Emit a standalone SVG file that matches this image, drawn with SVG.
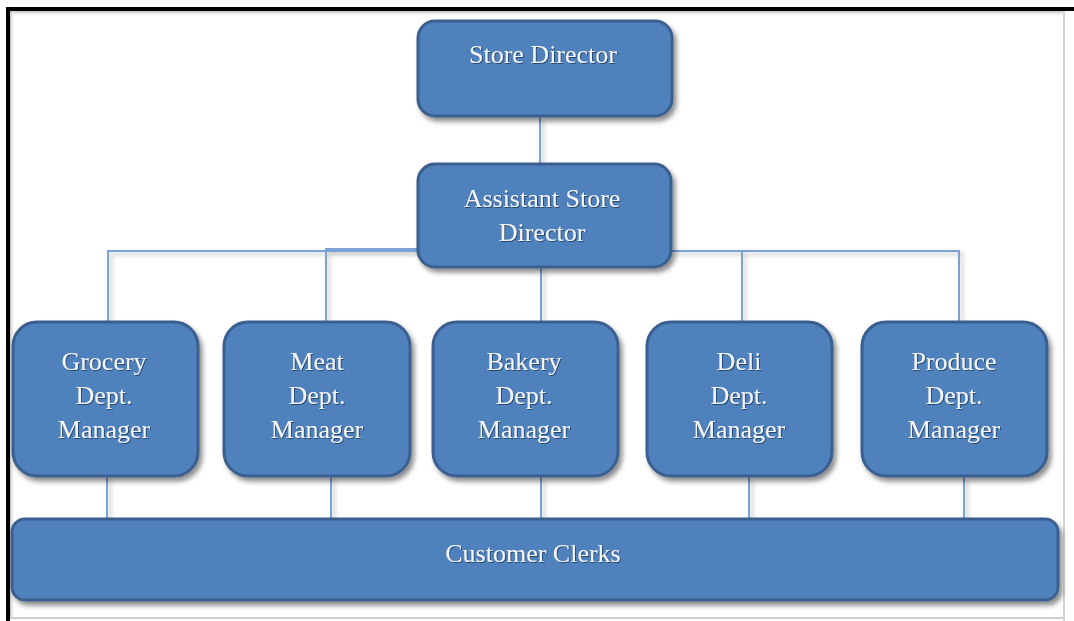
<svg xmlns="http://www.w3.org/2000/svg" width="1074" height="621" viewBox="0 0 1074 621">
  <defs>
    <filter id="boxShadow" x="-10%" y="-10%" width="130%" height="140%">
      <feDropShadow dx="3" dy="4" stdDeviation="2.5" flood-color="#000" flood-opacity="0.45"/>
    </filter>
    <filter id="lineShadow" x="-50%" y="-10%" width="300%" height="130%">
      <feDropShadow dx="3" dy="3" stdDeviation="2" flood-color="#000" flood-opacity="0.25"/>
    </filter>
    <filter id="textShadow" x="-10%" y="-30%" width="120%" height="160%">
      <feDropShadow dx="1" dy="1" stdDeviation="0.6" flood-color="#1f3a5f" flood-opacity="0.8"/>
    </filter>
    <linearGradient id="topShade" x1="0" y1="0" x2="0" y2="1">
      <stop offset="0" stop-color="#bdbdbd"/>
      <stop offset="1" stop-color="#ffffff" stop-opacity="0"/>
    </linearGradient>
    <linearGradient id="leftShade" x1="0" y1="0" x2="1" y2="0">
      <stop offset="0" stop-color="#bdbdbd"/>
      <stop offset="1" stop-color="#ffffff" stop-opacity="0"/>
    </linearGradient>
  </defs>
  <style>
    .box { fill: #4f81bd; stroke: #3b5f8e; stroke-width: 3; filter: url(#boxShadow); }
    .lbl { font-family: "Liberation Serif", "Times New Roman", serif; font-size: 26px; fill: #f4f6fa; text-anchor: middle; filter: url(#textShadow); }
    .conn { stroke: #7aa2d6; stroke-width: 2; fill: none; }
  </style>

  <rect x="0" y="0" width="1074" height="621" fill="#ffffff"/>

  <!-- frame -->
  <g id="frame">
    <rect x="10" y="11" width="1053" height="6" fill="url(#topShade)"/>
    <rect x="10" y="11" width="5" height="607" fill="url(#leftShade)"/>
    <rect x="1063" y="11" width="2" height="610" fill="#d6d6d6"/>
    <rect x="10" y="617" width="1055" height="2" fill="#d0d0d0"/>
    <rect x="6" y="7" width="1068" height="4" fill="#000000"/>
    <rect x="6" y="7" width="4" height="614" fill="#000000"/>
  </g>

  <!-- connectors -->
  <g id="connectors" class="conn" filter="url(#lineShadow)">
    <line x1="540" y1="117" x2="540" y2="163"/>
    <polyline points="108,321 108,251 417,251"/>
    <polyline points="326,321 326,249 417,249"/>
    <polyline points="672,251 959,251 959,321"/>
    <line x1="742" y1="251" x2="742" y2="321"/>
    <line x1="541" y1="268" x2="541" y2="321"/>
    <line x1="107" y1="477" x2="107" y2="518"/>
    <line x1="331" y1="477" x2="331" y2="518"/>
    <line x1="541" y1="477" x2="541" y2="518"/>
    <line x1="749" y1="477" x2="749" y2="518"/>
    <line x1="964" y1="477" x2="964" y2="518"/>
  </g>

  <g id="store-director">
    <rect class="box" x="418" y="21" width="254" height="95" rx="17"/>
    <text class="lbl" x="543" y="63">Store Director</text>
  </g>

  <g id="assistant-store-director">
    <rect class="box" x="418" y="164" width="253" height="103" rx="17"/>
    <text class="lbl" x="542" y="207">Assistant Store</text>
    <text class="lbl" x="542" y="241">Director</text>
  </g>

  <g id="grocery">
    <rect class="box" x="13" y="322" width="185" height="154" rx="24"/>
    <text class="lbl" x="104" y="370">Grocery</text>
    <text class="lbl" x="104" y="404">Dept.</text>
    <text class="lbl" x="104" y="438">Manager</text>
  </g>

  <g id="meat">
    <rect class="box" x="224" y="322" width="186" height="154" rx="24"/>
    <text class="lbl" x="317" y="370">Meat</text>
    <text class="lbl" x="317" y="404">Dept.</text>
    <text class="lbl" x="317" y="438">Manager</text>
  </g>

  <g id="bakery">
    <rect class="box" x="433" y="322" width="185" height="154" rx="24"/>
    <text class="lbl" x="524" y="370">Bakery</text>
    <text class="lbl" x="524" y="404">Dept.</text>
    <text class="lbl" x="524" y="438">Manager</text>
  </g>

  <g id="deli">
    <rect class="box" x="647" y="322" width="185" height="154" rx="24"/>
    <text class="lbl" x="739" y="370">Deli</text>
    <text class="lbl" x="739" y="404">Dept.</text>
    <text class="lbl" x="739" y="438">Manager</text>
  </g>

  <g id="produce">
    <rect class="box" x="862" y="322" width="185" height="154" rx="24"/>
    <text class="lbl" x="954" y="370">Produce</text>
    <text class="lbl" x="954" y="404">Dept.</text>
    <text class="lbl" x="954" y="438">Manager</text>
  </g>

  <g id="customer-clerks">
    <rect class="box" x="12" y="519" width="1046" height="81" rx="13"/>
    <text class="lbl" x="533" y="562">Customer Clerks</text>
  </g>
</svg>
